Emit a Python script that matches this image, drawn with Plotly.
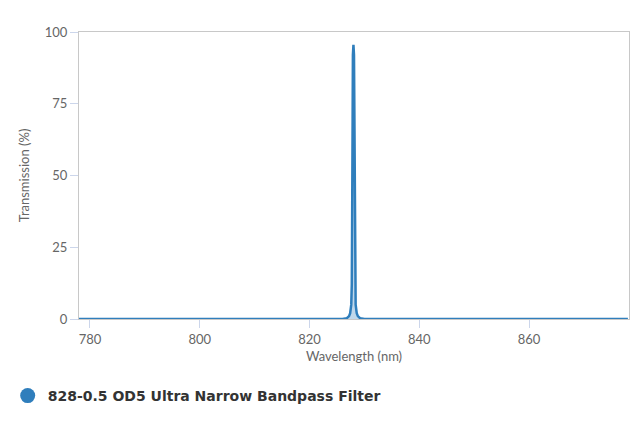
import plotly.graph_objects as go

# Data
wavelength = [778.0, 826.0, 826.8, 827.2, 827.4, 827.6, 827.7, 827.8, 827.85, 827.9, 828.0,
              828.1, 828.15, 828.2, 828.3, 828.4, 828.6, 828.8, 829.2, 830.0, 878.0]
transmission = [0.0, 0.0, 0.3, 1.0, 2.0, 5.0, 12.0, 35.0, 70.0, 92.0, 95.5,
                92.0, 70.0, 35.0, 12.0, 5.0, 2.0, 1.0, 0.3, 0.0, 0.0]
series_name = "828-0.5 OD5 Ultra Narrow Bandpass Filter"
x_ticks = [780, 800, 820, 840, 860]
y_ticks = [0, 25, 50, 75, 100]

line_color = "#2f7ebc"

fig = go.Figure()
fig.add_trace(go.Scatter(
    x=wavelength, y=transmission, mode="lines",
    line=dict(color=line_color, width=2.5),
    fill="tozeroy", fillcolor="rgba(47,126,188,0.3)",
    showlegend=False, hoverinfo="skip",
))
fig.add_trace(go.Scatter(
    x=[None], y=[None], mode="markers", name=series_name,
    marker=dict(color=line_color, size=15, symbol="circle"),
))

axis_line = "#c8c8c8"
fig.update_layout(
    width=640, height=427,
    margin=dict(l=79, r=11, t=32, b=108, autoexpand=False),
    paper_bgcolor="white", plot_bgcolor="white",
    font=dict(family="Lato, sans-serif", color="#666666", size=13),
    xaxis=dict(
        range=[778.0, 878.2], tickvals=x_ticks, showgrid=False, zeroline=False,
        showline=True, linecolor=axis_line, linewidth=1, mirror=True,
        ticks="outside", ticklen=8, tickcolor="#ccd6eb", automargin=False,
        title=dict(text="Wavelength (nm)", font=dict(size=13, color="#666666"), standoff=6),
        tickfont=dict(size=13, color="#666666"),
    ),
    yaxis=dict(
        range=[0, 100], tickvals=y_ticks, showgrid=False, zeroline=False,
        showline=True, linecolor=axis_line, linewidth=1, mirror=True,
        ticks="outside", ticklen=8, tickcolor="#ccd6eb", automargin=False,
        title=dict(text="Transmission (%)", font=dict(size=13, color="#666666"), standoff=12),
        tickfont=dict(size=13, color="#666666"),
    ),
    legend=dict(
        orientation="h", xref="container", yref="container",
        x=0.012, xanchor="left", y=1 - 396 / 427, yanchor="middle",
        font=dict(family="DejaVu Sans, sans-serif", size=14, color="#333333", weight="bold"),
        bgcolor="rgba(0,0,0,0)",
    ),
)

fig.write_html(
    "out.html",
    config={"displayModeBar": False},
    post_script="document.body.style.margin='0';document.body.style.padding='0';",
)
